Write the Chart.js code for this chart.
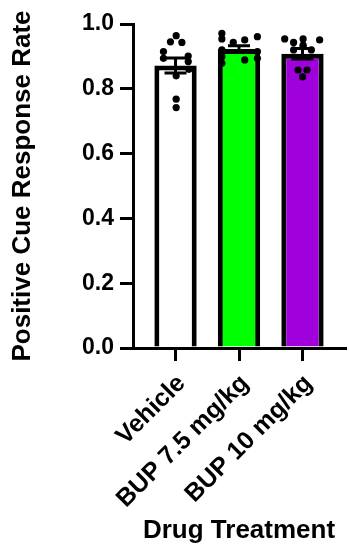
<!DOCTYPE html>
<html>
<head>
<meta charset="utf-8">
<script src="https://cdn.jsdelivr.net/npm/chart.js@4.4.1/dist/chart.umd.min.js"></script>
<style>
  html, body { margin: 0; padding: 0; background: #fff; }
  #wrap { width: 349px; height: 552px; }
</style>
</head>
<body>
<div id="wrap"><canvas id="chart" width="349" height="552"></canvas></div>
<script>
// groups on the x axis
const groups = ['Vehicle', 'BUP 7.5 mg/kg', 'BUP 10 mg/kg'];
// bar heights (mean) and SEM
const means = [0.872, 0.923, 0.908];
const sems = [0.023, 0.010, 0.016];
const barColors = ['#ffffff', '#00ff00', '#a000dc'];

// individual animals per group
const vehiclePoints = [0.964, 0.945, 0.943, 0.915, 0.894, 0.901, 0.884, 0.860, 0.840, 0.768, 0.742];
const vehicleJitter = [0.01, -0.08, 0.10, -0.19, -0.19, 0.20, 0.20, 0.21, 0.01, 0.01, 0.01];
const bup75Points = [0.971, 0.954, 0.943, 0.951, 0.961, 0.920, 0.899, 0.879, 0.889, 0.915, 0.894];
const bup75Jitter = [-0.27, -0.27, -0.09, 0.09, 0.29, -0.27, -0.27, -0.27, 0.09, 0.29, 0.29];
const bup10Points = [0.954, 0.943, 0.954, 0.951, 0.935, 0.920, 0.920, 0.930, 0.858, 0.858, 0.837];
const bup10Jitter = [-0.28, -0.14, 0.01, 0.27, 0.01, -0.14, 0.14, 0.01, -0.07, 0.07, 0.00];

const yTicks = [0, 0.2, 0.4, 0.6, 0.8, 1.0];

const fontFamily = "'Liberation Sans', Arial, sans-serif";

const pointSets = [
    [vehiclePoints, vehicleJitter],
    [bup75Points, bup75Jitter],
    [bup10Points, bup10Jitter]
];
const scatterData = pointSets.flatMap(([vals, jit], g) =>
    vals.map((v, i) => ({ x: g + jit[i], y: v })));

// mean +/- SEM whiskers, drawn right after the bars
const errorBars = {
    id: 'errorBars',
    afterDatasetDraw(chart, args) {
        if (args.index !== 0) return;
        const { ctx, scales: { x, y } } = chart;
        ctx.save();
        ctx.strokeStyle = '#000';
        ctx.lineWidth = 3;
        means.forEach((m, i) => {
            const cx = x.getPixelForValue(i);
            const top = y.getPixelForValue(m + sems[i]);
            const bot = y.getPixelForValue(m - sems[i]);
            const half = 11;
            ctx.beginPath();
            ctx.moveTo(cx, top); ctx.lineTo(cx, bot);
            ctx.moveTo(cx - half, top); ctx.lineTo(cx + half, top);
            ctx.moveTo(cx - half, bot); ctx.lineTo(cx + half, bot);
            ctx.stroke();
        });
        ctx.restore();
    }
};

new Chart(document.getElementById('chart'), {
    type: 'bar',
    data: {
        datasets: [
            {
                data: means.map((m, i) => ({ x: i, y: m })),
                backgroundColor: barColors,
                borderColor: '#000',
                borderWidth: 5,
                barPercentage: 0.667,
                categoryPercentage: 1,
                order: 2
            },
            {
                type: 'scatter',
                data: scatterData,
                backgroundColor: '#000',
                borderWidth: 0,
                pointRadius: 3.6,
                order: 1
            }
        ]
    },
    options: {
        responsive: false,
        animation: false,
        layout: { padding: { top: 24, right: 0, left: 0, bottom: 0 } },
        plugins: { legend: { display: false }, tooltip: { enabled: false } },
        scales: {
            x: {
                type: 'linear',
                offset: false,
                min: -0.67,
                max: 2.67,
                afterBuildTicks: scale => { scale.ticks = groups.map((g, i) => ({ value: i })); },
                afterFit: scale => {
                    scale.height = 204;
                    scale.paddingLeft = 0;
                    scale.paddingRight = 0;
                },
                ticks: {
                    callback: v => groups[v],
                    minRotation: 45,
                    maxRotation: 45,
                    color: '#000',
                    padding: 8,
                    labelOffset: 6,
                    font: { family: fontFamily, size: 25, weight: 'bold' }
                },
                grid: { offset: false, drawOnChartArea: false, tickLength: 13, lineWidth: 3, color: '#000' },
                border: { display: true, width: 3, color: '#000' },
                title: {
                    display: true,
                    text: 'Drug Treatment',
                    color: '#000',
                    padding: { top: 0, bottom: 6 },
                    font: { family: fontFamily, size: 26, weight: 'bold' }
                }
            },
            y: {
                min: 0,
                max: 1,
                afterBuildTicks: scale => { scale.ticks = yTicks.map(v => ({ value: v })); },
                afterFit: scale => { scale.width = 133; },
                ticks: {
                    callback: v => v.toFixed(1),
                    color: '#000',
                    padding: 6,
                    font: { family: fontFamily, size: 23, weight: 'bold' }
                },
                grid: { drawOnChartArea: false, tickLength: 13, lineWidth: 3, color: '#000' },
                border: { display: true, width: 3, color: '#000' },
                title: {
                    display: true,
                    text: 'Positive Cue Response Rate',
                    color: '#000',
                    padding: { top: 7, bottom: 0 },
                    font: { family: fontFamily, size: 26, weight: 'bold' }
                }
            }
        }
    },
    plugins: [errorBars]
});
</script>
</body>
</html>
